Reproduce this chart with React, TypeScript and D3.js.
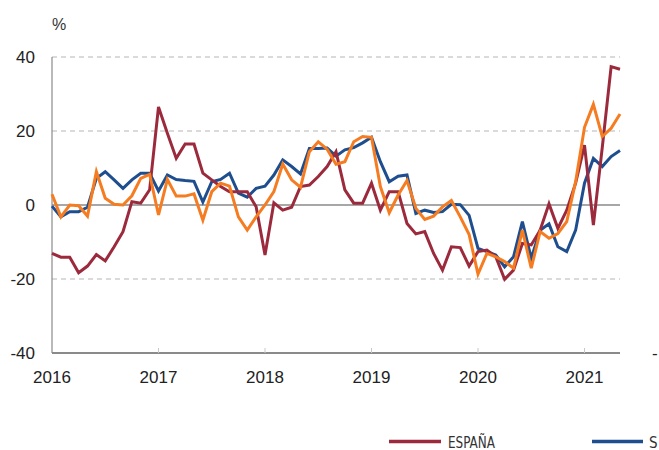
import * as d3 from 'd3';

// monthly, Jan 2016 – May 2021
const espana = [
  -13.1, -14.1, -14.1, -18.3, -16.5, -13.4, -15.1, -11.3, -7.2, 0.9, 0.5, 4.1,
  26.5, 19.4, 12.6, 16.5, 16.5, 8.6, 6.8, 5.0, 3.6, 3.6, 3.6, -0.5,
  -13.5, 0.6, -1.4, -0.6, 5.0, 5.4, 7.7, 10.4, 14.4, 4.1, 0.5, 0.5,
  5.9, -1.4, 3.6, 3.6, -5.0, -7.8, -7.2, -13.1, -17.6, -11.3, -11.5, -16.5,
  -12.6, -12.2, -14.0, -20.1, -17.6, -10.4, -10.8, -6.8, 0.3, -6.3, -1.4, 5.9,
  16.2, -5.4, 15.5, 37.4, 36.7,
];
const serieS = [
  -0.3, -3.2, -1.8, -1.8, -0.6, 7.2, 9.0, 6.8, 4.5, 6.8, 8.6, 8.6,
  3.8, 8.1, 6.9, 6.6, 6.4, 0.8, 6.3, 6.9, 8.6, 3.2, 2.1, 4.5,
  5.1, 8.1, 12.2, 10.4, 8.4, 15.3, 15.3, 15.4, 13.2, 14.9, 15.5, 16.8,
  18.3, 11.7, 6.3, 7.8, 8.1, -2.3, -1.4, -2.0, -1.8, 0.2, 0.1, -2.8,
  -11.7, -12.6, -13.5, -16.7, -14.0, -4.5, -14.4, -6.8, -5.1, -11.3, -12.6, -6.8,
  5.9, 12.6, 10.4, 13.1, 14.7,
];
const serieOrange = [
  2.9, -3.2, 0, -0.2, -3.0, 9.0, 1.8, 0.2, 0, 2.5, 7.2, 8.3,
  -2.7, 6.9, 2.4, 2.4, 3.0, -4.1, 3.6, 5.9, 5.1, -3.2, -6.8, -3.2,
  0, 3.6, 11.1, 6.8, 4.8, 14.4, 17.1, 15.1, 11.0, 11.7, 17.1, 18.5,
  18.3, 5.0, -2.1, 2.7, 6.6, -0.9, -3.9, -3.0, -0.5, 1.2, -3.2, -8.0,
  -18.7, -13.1, -14.0, -15.3, -17.1, -6.8, -17.1, -7.2, -9.0, -7.7, -4.5, 6.3,
  21.0, 27.2, 18.5, 20.7, 24.6,
];
const years = [2016, 2017, 2018, 2019, 2020, 2021];
const yTicks = [40, 20, 0, -20, -40];

const FONT = '"Liberation Sans", Arial, sans-serif';
const NARROW = '"DejaVu Sans Condensed", "Liberation Sans", Arial, sans-serif';
const RED = '#9c2a3d';
const BLUE = '#1f4e8f';
const ORANGE = '#f57c21';

export default function App() {
  const W = 659;
  const H = 450;
  const x = d3.scaleLinear().domain([0, 64]).range([52, 620]);
  const y = d3.scaleLinear().domain([-40, 40]).range([353, 57]);
  const yearX = (yr: number) => x((yr - 2016) * 12);

  const line = d3
    .line<number>()
    .x((_, i) => x(i))
    .y((d) => y(d));

  const series = [
    { data: serieS, color: BLUE },
    { data: espana, color: RED },
    { data: serieOrange, color: ORANGE },
  ];

  return (
    <svg
      width={W}
      height={H}
      style={{ position: 'absolute', left: 0, top: 0, background: '#fff' }}
      fontFamily={FONT}
    >
      <text x={52} y={30} fontSize={16} fill="#333">%</text>

      {/* gridlines */}
      {yTicks
        .filter((t) => t !== 0 && t !== -40)
        .map((t) => (
          <line
            key={t}
            x1={52}
            x2={620}
            y1={y(t)}
            y2={y(t)}
            stroke="#b5b5b5"
            strokeWidth={1}
            strokeDasharray="5,4"
          />
        ))}
      <line x1={52} x2={620} y1={y(0)} y2={y(0)} stroke="#8a8a8a" strokeWidth={1.5} />

      {/* y axis */}
      <line x1={52} x2={52} y1={y(40)} y2={y(-40)} stroke="#8a8a8a" strokeWidth={1.2} />
      {yTicks.map((t) => (
        <text
          key={t}
          x={35}
          y={y(t) + 6}
          textAnchor="end"
          fontSize={17}
          fill="#222"
        >
          {t}
        </text>
      ))}

      {/* series */}
      {series.map((s, i) => (
        <path
          key={i}
          d={line(s.data) ?? ''}
          fill="none"
          stroke={s.color}
          strokeWidth={3}
          strokeLinejoin="miter"
        />
      ))}

      {/* x axis */}
      <line x1={52} x2={620} y1={y(-40)} y2={y(-40)} stroke="#8a8a8a" strokeWidth={2} />
      {years.map((yr) => (
        <g key={yr}>
          {yr > 2016 && (
            <line
              x1={yearX(yr)}
              x2={yearX(yr)}
              y1={y(-40) - 5}
              y2={y(-40)}
              stroke="#c8c8c8"
              strokeWidth={1}
            />
          )}
          <text x={yearX(yr)} y={383} textAnchor="middle" fontSize={17} fill="#222">
            {yr}
          </text>
        </g>
      ))}
      <text x={652} y={359} fontSize={17} fill="#222">-</text>

      {/* legend */}
      <line x1={389} x2={441} y1={441.5} y2={441.5} stroke={RED} strokeWidth={3.5} />
      <text
        x={448}
        y={447.5}
        fontSize={15}
        fontFamily={NARROW}
        fill="#333"
        textLength={47}
        lengthAdjust="spacingAndGlyphs"
      >
        ESPAÑA
      </text>
      <line x1={592} x2={643} y1={441.5} y2={441.5} stroke={BLUE} strokeWidth={3.5} />
      <text x={649} y={447.5} fontSize={15} fontFamily={NARROW} fill="#333">S</text>
    </svg>
  );
}
